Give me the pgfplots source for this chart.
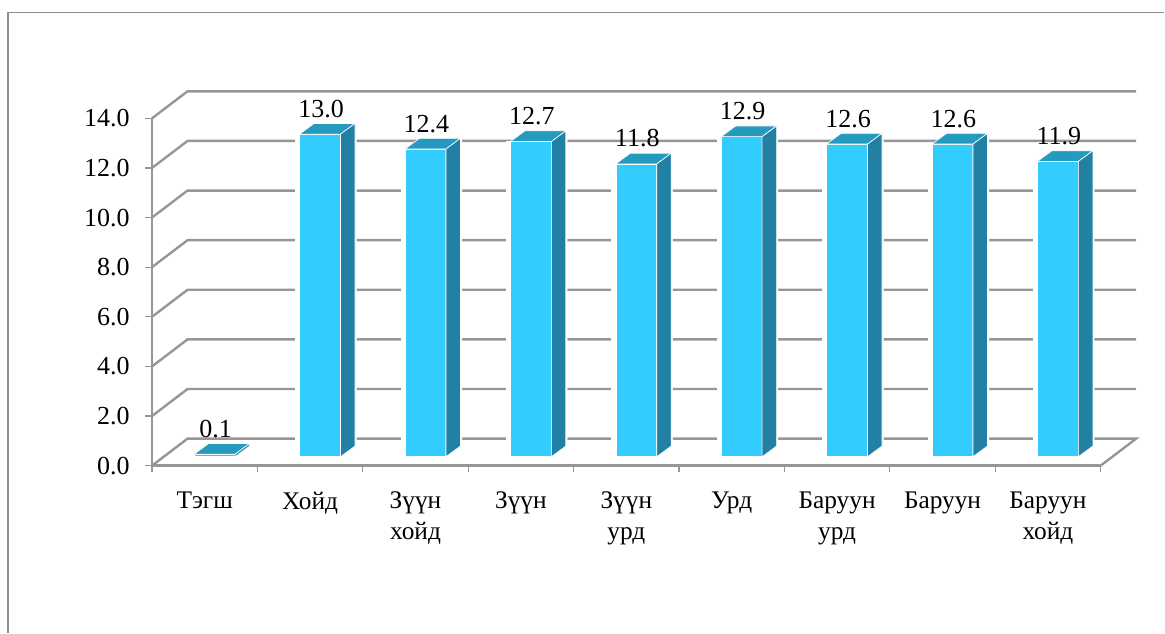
\documentclass[border=0pt]{standalone}
\usepackage{fontspec}
\setmainfont{Liberation Serif}
\usepackage{pgfplots}
\usepackage{pgfplotstable}
\pgfplotsset{compat=1.18}
\definecolor{front}{HTML}{33CCFF}
\definecolor{topc}{HTML}{259ABF}
\definecolor{sidec}{HTML}{2180A3}
\definecolor{gridc}{HTML}{969696}
\definecolor{framec}{HTML}{8C8C8C}
\pgfdeclareplotmark{nil}{}
\pgfplotstableread{
x v base
0 0.1 0.363
1 13.0 0.363
2 12.4 0.363
3 12.7 0.363
4 11.8 0.363
5 12.9 0.363
6 12.6 0.363
7 12.6 0.363
8 11.9 0.363
}\data
\begin{document}
\begin{tikzpicture}
\begin{axis}[
  scale only axis, width=711.45pt, height=260.5pt,
  xmin=0, xmax=9, ymin=0, ymax=14,
  clip=false,
  unbounded coords=jump,
  axis lines=left,
  axis line style={-, gridc, line width=1.8pt},
  tick align=outside,
  ytick={0,2,...,14},
  xtick={0.5,1.5,...,8.5},
  minor xtick={0,1,...,9},
  xticklabels={Тэгш,Хойд,{Зүүн\\хойд},Зүүн,{Зүүн\\урд},Урд,{Баруун\\урд},Баруун,{Баруун\\хойд}},
  major x tick style={draw=none},
  minor x tick style={draw=gridc, line width=0.9pt},
  minor tick length=4.5pt,
  ytick style={gridc, line width=0.9pt},
  major tick length=5pt,
  tick label style={font=\fontsize{19.5}{23}\selectfont},
  yticklabel style={/pgf/number format/fixed, /pgf/number format/zerofill, /pgf/number format/precision=1, /pgf/number format/assume math mode=true, inner sep=0pt, xshift=-11.5pt},
  xticklabel style={font=\fontsize{19}{23}\selectfont, align=center, inner sep=0pt, yshift=-14.5pt, anchor=north},
  every tick label/.append style={text=black},
]
% frame
\addplot[framec, line width=0.8pt, no markers] coordinates {(-1.366,-6.73) (-1.366,18.247) (9.60,18.247)};
\path (axis cs:-1.442,18.77) rectangle (axis cs:9.611,-6.743);
% walls and gridlines
\addplot[gridc, line width=1.8pt, no markers] coordinates {
 (0,0) (0.337,1.089) (9.337,1.089) (9,0) (nan,nan)
 (0,2) (0.337,3.089) (9.337,3.089) (nan,nan)
 (0,4) (0.337,5.089) (9.337,5.089) (nan,nan)
 (0,6) (0.337,7.089) (9.337,7.089) (nan,nan)
 (0,8) (0.337,9.089) (9.337,9.089) (nan,nan)
 (0,10) (0.337,11.089) (9.337,11.089) (nan,nan)
 (0,12) (0.337,13.089) (9.337,13.089) (nan,nan)
 (0,14) (0.337,15.089) (9.337,15.089)
};
% bars: top and side faces
\addplot[only marks, scatter, mark=nil,
  visualization depends on={\thisrow{v} \as \val},
  point meta=explicit,
  scatter/@pre marker code/.code={%
    \pgfmathsetmacro{\hh}{\val*18.61}%
    \fill[white] (-3pt,0pt) rectangle (0pt,-\hh pt);%
    \fill[white] (30.75pt,0pt) -- (42.6pt,8.5pt) -- (42.6pt,8pt-\hh pt) -- (30.75pt,-\hh pt) -- cycle;%
    \filldraw[fill=topc, draw=white, line width=0.5pt] (0pt,0pt) -- (30.75pt,0pt) -- (41.6pt,8pt) -- (10.9pt,8pt) -- cycle;%
    \filldraw[fill=sidec, draw=white, line width=0.5pt] (30.75pt,0pt) -- (41.6pt,8pt) -- (41.6pt,8pt-\hh pt) -- (30.75pt,-\hh pt) -- cycle;%
  },
  scatter/@post marker code/.code={},
] table[x expr=\thisrow{x}+0.400, y expr=\thisrow{v}+0.363, meta=v] {\data};
% bars: front faces
\addplot[ybar stacked, bar width=30.75pt, draw=none, fill=none] table[x expr=\thisrow{x}+0.5957, y=base] {\data};
\addplot[ybar stacked, bar width=30.75pt, draw=white, line width=0.5pt, fill=front] table[x expr=\thisrow{x}+0.5957, y=v] {\data};
% labels
\addplot[stack plots=false, only marks, mark=nil,
  point meta=explicit,
  nodes near coords,
  nodes near coords style={font=\fontsize{19.5}{23}\selectfont, text=black, anchor=base, inner sep=0pt, xshift=15.8pt, yshift=12.75pt,
    /pgf/number format/fixed, /pgf/number format/zerofill, /pgf/number format/precision=1, /pgf/number format/assume math mode=true},
] table[x expr=\thisrow{x}+0.404, y expr=\thisrow{v}+0.363, meta=v] {\data};
\end{axis}
\end{tikzpicture}
\end{document}
